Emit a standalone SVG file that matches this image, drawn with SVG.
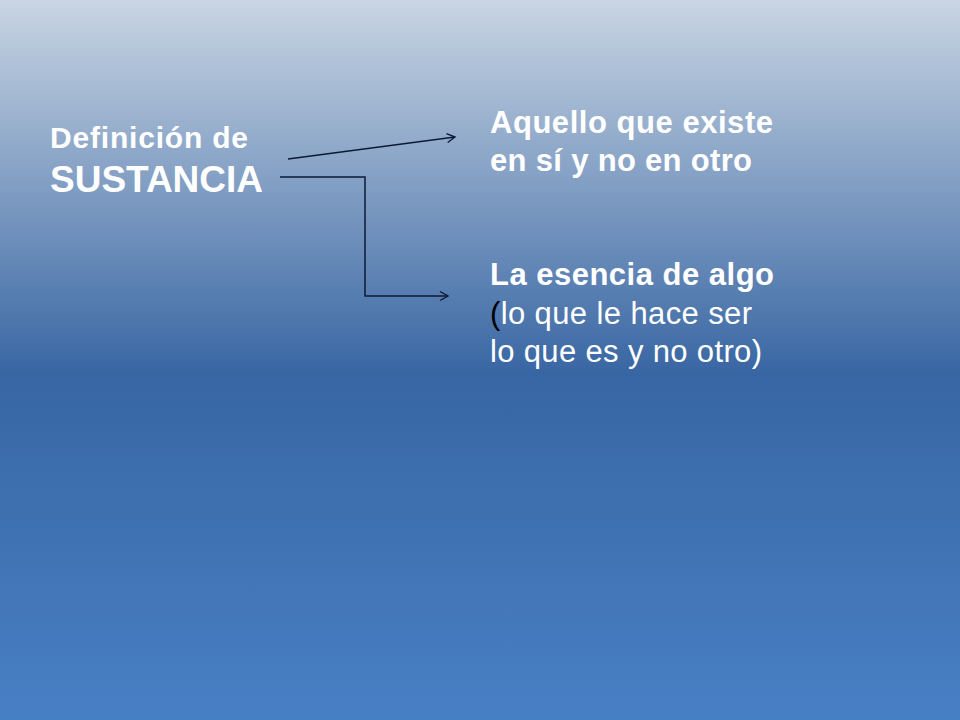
<svg xmlns="http://www.w3.org/2000/svg" width="960" height="720" viewBox="0 0 960 720">
  <defs>
    <linearGradient id="bg" x1="0" y1="0" x2="0" y2="1">
      <stop offset="0" stop-color="#c9d5e3"/>
      <stop offset="0.52" stop-color="#3866a3"/>
      <stop offset="1" stop-color="#4880c5"/>
    </linearGradient>
    <marker id="arr" markerWidth="12" markerHeight="12" refX="10" refY="6" orient="auto" markerUnits="userSpaceOnUse">
      <path d="M2,1.5 L10,6 L2,10.5" fill="none" stroke="#0d1a33" stroke-width="1.4"/>
    </marker>
    <style>
      .t { font-family: "Liberation Sans", Arial, sans-serif; fill: #ffffff; }
      .b { font-weight: bold; }
      .c { fill: none; stroke: #0d1a33; stroke-width: 1.5; }
    </style>
  </defs>
  <rect x="0" y="0" width="960" height="720" fill="url(#bg)"/>

  <g id="sustancia">
    <text class="t b" x="50" y="148" font-size="30" textLength="198">Definición de</text>
    <text class="t b" x="50" y="192" font-size="37" textLength="213">SUSTANCIA</text>
  </g>

  <g id="def1">
    <text class="t b" x="490" y="133" font-size="31" textLength="283">Aquello que existe</text>
    <text class="t b" x="490" y="171" font-size="31" textLength="262">en sí y no en otro</text>
  </g>

  <g id="def2">
    <text class="t b" x="490" y="285" font-size="31" textLength="284">La esencia de algo</text>
    <text class="t" x="490" y="324" font-size="31" textLength="262"><tspan fill="#000000">(</tspan>lo que le hace ser</text>
    <text class="t" x="490" y="362" font-size="31" textLength="272">lo que es y no otro)</text>
  </g>

  <g id="connectors">
    <line class="c" x1="288" y1="159" x2="455" y2="137" marker-end="url(#arr)"/>
    <polyline class="c" points="280,177 365,177 365,296 448,296" marker-end="url(#arr)"/>
  </g>
</svg>
